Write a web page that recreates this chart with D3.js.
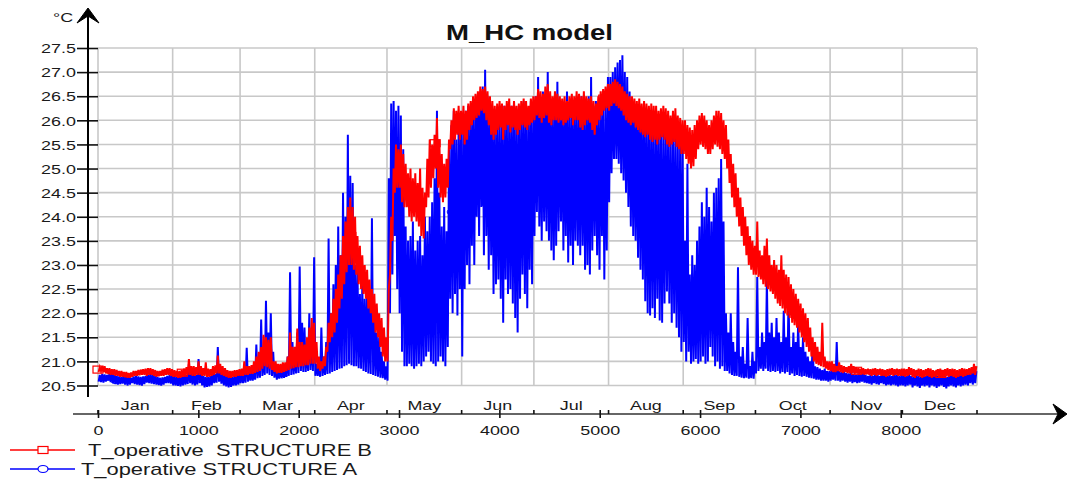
<!DOCTYPE html>
<html>
<head>
<meta charset="utf-8">
<script src="https://cdn.jsdelivr.net/npm/d3@7"></script>
<style>
  body { margin: 0; background: #fff; }
  svg { display: block; font-family: Arial, "Liberation Sans", sans-serif; }
</style>
</head>
<body>
<div id="wrapper"></div>
<script>
// Readings: for every day, its low then its high (°C)
const blueJan = [20.58,20.72, 20.57,20.74, 20.56,20.73, 20.58,20.72, 20.6,20.75,
  20.57,20.76, 20.55,20.72, 20.53,20.7, 20.52,20.69, 20.53,20.68,
  20.54,20.7, 20.52,20.72, 20.5,20.68, 20.52,20.66, 20.55,20.69,
  20.53,20.7, 20.52,20.69, 20.51,20.68, 20.5,20.69, 20.53,20.7,
  20.56,20.72, 20.55,20.74, 20.54,20.72, 20.53,20.7, 20.52,20.68,
  20.51,20.66, 20.5,20.67, 20.52,20.68, 20.55,20.7, 20.55,20.72,
  20.54,20.71]
const blueFeb = [20.5,20.7, 20.5,20.68, 20.49,20.72, 20.48,20.7, 20.5,20.75,
  20.52,20.72, 20.53,20.95, 20.55,20.74, 20.52,20.8, 20.5,20.72,
  20.52,21.05, 20.55,20.74, 20.5,20.7, 20.46,20.68, 20.47,20.68,
  20.48,20.7, 20.5,20.8, 20.55,20.74, 20.56,21.3, 20.58,20.78,
  20.54,20.78, 20.5,20.72, 20.48,20.7, 20.46,20.69, 20.47,20.68,
  20.5,20.7, 20.5,20.72, 20.52,20.73]
const blueMar = [20.55,20.75, 20.55,20.85, 20.56,21.28, 20.58,20.8, 20.6,20.8,
  20.6,20.78, 20.62,21.35, 20.65,21.0, 20.66,21.87, 20.7,21.1,
  20.72,22.26, 20.75,21.6, 20.72,22.0, 20.7,21.2, 20.66,20.95,
  20.62,20.85, 20.64,20.9, 20.65,20.86, 20.66,20.85, 20.68,21.1,
  20.7,22.85, 20.72,21.4, 20.73,21.2, 20.75,21.6, 20.76,22.97,
  20.8,21.8, 20.78,21.7, 20.78,21.3, 20.8,22.0, 20.82,21.6,
  20.8,23.16]
const blueApr = [20.7,20.95, 20.7,20.95, 20.68,21.7, 20.7,21.1, 20.72,21.4,
  20.74,23.55, 20.75,22.0, 20.78,22.6, 20.8,23.0, 20.82,23.8,
  20.85,23.2, 20.86,24.5, 20.9,24.0, 20.92,25.7, 20.95,24.85,
  20.92,24.7, 20.9,23.0, 20.9,22.9, 20.86,22.4, 20.85,22.6,
  20.8,22.3, 20.78,22.5, 20.75,22.2, 20.74,23.97, 20.72,22.0,
  20.7,21.6, 20.68,21.5, 20.66,21.2, 20.65,21.0, 20.62,20.9]
const blueMay = [20.6,24.8, 22.0,26.35, 22.8,26.4, 23.6,26.2, 22.5,26.3,
  22.0,26.1, 21.2,25.4, 20.9,23.8, 20.9,23.5, 20.95,23.6,
  20.9,23.9, 20.85,23.3, 20.9,23.5, 20.95,23.6, 20.9,23.2,
  21.0,24.0, 21.1,23.7, 21.2,24.0, 21.0,24.3, 20.95,24.8,
  20.9,26.2, 21.0,24.5, 21.1,23.8, 21.0,24.2, 20.9,23.7,
  21.3,25.4, 22.3,25.9, 22.0,26.2, 22.4,25.6, 21.95,26.0,
  22.5,26.1]
const blueJun = [21.1,26.1, 22.5,26.2, 23.0,26.3, 22.6,26.2, 23.4,26.3,
  23.0,26.4, 24.0,26.5, 23.6,26.6, 24.2,26.7, 23.2,27.05,
  23.6,26.5, 22.9,26.3, 23.2,26.2, 22.4,26.1, 22.6,26.0,
  22.7,26.2, 22.3,26.1, 21.8,26.3, 22.7,26.2, 22.4,26.1,
  22.5,26.3, 22.2,26.35, 21.9,26.2, 21.6,26.3, 22.3,26.2,
  22.8,26.4, 22.4,26.3, 22.1,26.2, 22.9,26.4, 22.6,26.3]
const blueJul = [23.6,26.5, 24.1,26.9, 23.8,26.4, 23.5,26.6, 23.9,26.3,
  23.7,27.0, 23.5,26.4, 23.3,26.3, 23.1,26.5, 23.4,26.8,
  23.7,26.3, 23.9,26.4, 23.3,26.3, 23.6,26.6, 23.05,26.2,
  23.4,26.4, 23.0,26.3, 23.5,26.4, 23.4,26.2, 23.2,26.5,
  23.4,26.3, 22.9,26.4, 23.0,26.5, 22.8,26.9, 23.3,26.3,
  23.6,26.4, 23.2,26.3, 22.9,26.5, 23.6,26.4, 22.7,26.3,
  23.3,26.9]
const blueAug = [24.3,26.9, 24.9,27.0, 25.2,27.1, 25.2,27.2, 25.1,27.25,
  24.9,27.35, 24.75,27.0, 24.5,26.9, 24.2,26.6, 23.8,26.4,
  23.6,26.3, 23.5,26.2, 23.15,26.3, 22.9,26.2, 22.7,26.1,
  22.25,26.2, 22.0,26.0, 21.95,26.1, 22.1,26.0, 21.9,25.9,
  22.3,26.0, 21.85,25.9, 21.8,25.8, 22.2,25.9, 22.45,25.7,
  22.2,25.8, 21.8,25.7, 22.0,25.8, 21.7,25.6, 21.5,25.7,
  21.2,25.5]
const blueSep = [21.4,23.5, 21.0,25.1, 21.2,22.8, 20.95,23.2, 21.0,23.0,
  21.05,23.5, 20.95,23.8, 21.0,24.3, 21.1,24.0, 20.95,24.6,
  21.0,24.2, 21.3,23.9, 21.1,24.5, 20.9,24.6, 21.0,24.8,
  20.85,25.2, 20.9,23.9, 20.8,22.0, 20.8,21.6, 20.75,22.0,
  20.72,21.4, 20.7,21.2, 20.7,22.95, 20.68,21.1, 20.66,21.3,
  20.65,20.95, 20.66,21.9, 20.64,20.9, 20.65,21.2, 20.64,21.0]
const blueOct = [20.75,22.75, 20.8,21.3, 20.85,21.6, 20.8,21.4, 20.85,22.7,
  20.8,21.6, 20.78,21.8, 20.8,21.5, 20.78,21.9, 20.8,21.6,
  20.75,21.4, 20.78,22.05, 20.75,21.5, 20.78,22.33, 20.72,21.3,
  20.75,21.6, 20.7,21.4, 20.72,21.85, 20.7,21.3, 20.68,21.5,
  20.7,21.2, 20.68,21.1, 20.66,21.0, 20.65,21.38, 20.64,20.9,
  20.62,20.88, 20.62,20.85, 20.6,20.82, 20.6,20.85, 20.6,20.8,
  20.58,20.8]
const blueNov = [20.6,20.82, 20.62,20.85, 20.6,21.4, 20.6,20.8, 20.58,20.78,
  20.6,20.8, 20.58,20.76, 20.56,20.75, 20.58,20.78, 20.55,20.74,
  20.57,20.72, 20.55,20.75, 20.56,20.74, 20.58,20.78, 20.56,20.72,
  20.55,20.7, 20.54,20.72, 20.52,20.7, 20.55,20.75, 20.53,20.72,
  20.52,20.7, 20.55,20.74, 20.53,20.72, 20.5,20.7, 20.52,20.72,
  20.5,20.7, 20.52,20.74, 20.5,20.72, 20.48,20.7, 20.5,20.72]
const blueDec = [20.5,20.72, 20.48,20.7, 20.5,20.74, 20.52,20.7, 20.46,20.68,
  20.5,20.72, 20.48,20.7, 20.45,20.68, 20.5,20.72, 20.48,20.7,
  20.5,20.74, 20.46,20.7, 20.5,20.72, 20.48,20.75, 20.45,20.7,
  20.48,20.72, 20.5,20.74, 20.47,20.7, 20.44,20.68, 20.48,20.72,
  20.5,20.75, 20.48,20.72, 20.46,20.7, 20.5,20.74, 20.48,20.72,
  20.5,20.75, 20.52,20.78, 20.5,20.74, 20.55,20.82, 20.52,20.78,
  20.55,20.8]

const redJan = [20.78,20.88, 20.8,20.9, 20.78,20.9, 20.75,20.86, 20.74,20.86,
  20.72,20.84, 20.72,20.84, 20.7,20.82, 20.7,20.8, 20.68,20.8,
  20.68,20.78, 20.67,20.78, 20.66,20.76, 20.66,20.77, 20.68,20.8,
  20.7,20.8, 20.7,20.82, 20.71,20.83, 20.72,20.84, 20.72,20.85,
  20.7,20.86, 20.72,20.86, 20.72,20.84, 20.7,20.82, 20.68,20.8,
  20.69,20.8, 20.7,20.83, 20.7,20.84, 20.72,20.86, 20.72,20.86,
  20.7,20.84]
const redFeb = [20.68,20.82, 20.68,20.8, 20.66,20.8, 20.66,20.82, 20.68,20.85,
  20.7,20.88, 20.72,21.05, 20.72,20.9, 20.7,20.9, 20.7,20.88,
  20.72,21.0, 20.72,20.9, 20.7,20.86, 20.7,20.98, 20.68,20.85,
  20.68,20.84, 20.7,20.9, 20.72,20.92, 20.75,21.12, 20.75,20.95,
  20.72,20.9, 20.7,20.86, 20.68,20.82, 20.66,20.8, 20.66,20.8,
  20.68,20.82, 20.68,20.82, 20.7,20.84]
const redMar = [20.7,20.85, 20.7,21.0, 20.72,20.9, 20.72,20.9, 20.74,20.92,
  20.74,21.0, 20.76,21.1, 20.78,21.2, 20.8,21.3, 20.85,21.55,
  20.9,21.5, 20.88,21.45, 20.85,21.5, 20.82,21.0, 20.78,21.0,
  20.75,20.95, 20.76,20.95, 20.76,20.98, 20.78,20.98, 20.8,21.1,
  20.82,21.6, 20.85,21.3, 20.86,21.3, 20.88,21.68, 20.88,21.4,
  20.9,21.4, 20.9,21.35, 20.92,21.5, 20.92,21.7, 20.95,21.9,
  20.95,21.8]
const redApr = [20.95,21.4, 20.85,21.1, 20.8,21.0, 20.85,21.1, 20.9,21.3,
  21.2,21.8, 21.4,22.0, 21.5,22.3, 21.6,22.5, 21.8,22.8,
  22.1,23.2, 22.3,23.6, 22.6,23.9, 22.85,24.2, 23.0,24.4,
  23.0,24.2, 22.9,24.0, 22.8,23.6, 22.6,23.4, 22.5,23.2,
  22.4,23.0, 22.3,22.9, 22.1,22.7, 22.0,22.5, 21.8,22.4,
  21.6,22.2, 21.5,22.0, 21.3,21.9, 21.1,21.7, 21.0,21.5]
const redMay = [21.0,22.5, 22.8,24.0, 23.5,25.0, 24.5,25.5, 24.6,25.4,
  24.6,25.5, 24.3,25.3, 24.2,25.1, 24.2,24.9, 24.0,25.0,
  23.9,24.8, 24.0,24.9, 23.9,24.7, 23.8,25.0, 23.6,24.6,
  23.55,24.5, 24.2,25.2, 24.4,25.6, 24.6,25.5, 24.8,25.7,
  25.0,26.05, 24.6,25.6, 24.4,25.3, 24.3,25.1, 24.4,25.2,
  24.6,25.6, 25.4,26.0, 25.5,26.25, 25.6,26.2, 25.7,26.3,
  25.6,26.2]
const redJun = [25.7,26.3, 25.5,26.2, 25.6,26.35, 25.8,26.4, 25.9,26.5,
  26.0,26.55, 26.05,26.6, 26.1,26.7, 26.2,26.65, 26.15,26.7,
  26.0,26.6, 25.9,26.5, 25.7,26.4, 25.6,26.3, 25.7,26.35,
  25.8,26.4, 25.85,26.35, 25.6,26.3, 25.8,26.4, 25.9,26.45,
  25.75,26.3, 25.85,26.4, 25.8,26.3, 25.7,26.35, 25.8,26.4,
  25.9,26.45, 25.85,26.4, 25.8,26.3, 25.9,26.45, 25.95,26.5]
const redJul = [26.0,26.5, 26.1,26.65, 26.05,26.6, 25.95,26.55, 26.05,26.7,
  26.1,26.75, 25.95,26.6, 25.9,26.5, 26.0,26.6, 26.0,26.55,
  25.95,26.5, 26.0,26.45, 25.9,26.5, 25.95,26.4, 26.0,26.5,
  26.05,26.55, 25.9,26.5, 26.0,26.6, 26.0,26.55, 25.85,26.5,
  25.8,26.6, 25.9,26.5, 26.0,26.45, 25.95,26.5, 25.8,26.4,
  25.7,26.35, 25.9,26.5, 26.0,26.6, 26.1,26.65, 26.2,26.7,
  26.25,26.75]
const redAug = [26.2,26.75, 26.3,26.8, 26.35,26.85, 26.3,26.8, 26.25,26.75,
  26.2,26.7, 26.1,26.6, 26.0,26.55, 25.95,26.5, 25.9,26.5,
  25.95,26.45, 25.85,26.4, 25.8,26.45, 25.75,26.35, 25.7,26.4,
  25.65,26.35, 25.7,26.3, 25.6,26.35, 25.55,26.3, 25.6,26.3,
  25.5,26.2, 25.6,26.25, 25.65,26.3, 25.6,26.25, 25.5,26.2,
  25.45,26.1, 25.5,26.2, 25.55,26.25, 25.45,26.1, 25.4,26.05,
  25.3,26.0]
const redSep = [25.3,26.0, 25.2,25.9, 25.1,25.85, 25.0,25.8, 25.05,25.9,
  25.2,26.0, 25.4,26.1, 25.5,26.15, 25.45,26.1, 25.4,26.0,
  25.3,25.9, 25.3,26.0, 25.4,26.1, 25.5,26.2, 25.45,26.2,
  25.4,26.15, 25.3,26.0, 25.2,25.9, 25.0,25.6, 24.7,25.3,
  24.4,25.1, 24.2,24.9, 24.0,24.6, 23.8,24.4, 23.6,24.2,
  23.4,24.0, 23.2,23.8, 23.0,23.6, 22.9,23.5, 22.8,23.4]
const redOct = [22.8,23.9, 22.75,23.3, 22.7,23.2, 22.6,23.4, 22.55,23.55,
  22.5,23.2, 22.45,23.0, 22.4,23.1, 22.3,23.0, 22.2,22.9,
  22.15,23.2, 22.1,22.9, 22.0,22.8, 21.95,22.75, 21.9,22.6,
  21.8,22.5, 21.75,22.4, 21.7,22.3, 21.6,22.2, 21.5,22.1,
  21.4,22.0, 21.3,21.9, 21.2,21.7, 21.1,21.5, 21.0,21.4,
  20.95,21.3, 20.92,21.2, 20.9,21.8, 20.88,21.1, 20.85,21.0,
  20.82,21.0]
const redNov = [20.8,21.0, 20.78,20.95, 20.78,20.9, 20.8,20.98, 20.78,20.92,
  20.76,20.9, 20.78,20.88, 20.76,20.9, 20.75,20.95, 20.76,20.9,
  20.74,20.88, 20.75,20.86, 20.73,20.85, 20.74,20.86, 20.72,20.84,
  20.73,20.85, 20.72,20.84, 20.7,20.85, 20.72,20.86, 20.7,20.84,
  20.72,20.85, 20.7,20.84, 20.7,20.82, 20.68,20.84, 20.7,20.85,
  20.72,20.86, 20.7,20.84, 20.72,20.85, 20.7,20.84, 20.7,20.85]
const redDec = [20.7,20.85, 20.68,20.84, 20.7,20.88, 20.72,20.86, 20.68,20.84,
  20.66,20.82, 20.7,20.85, 20.68,20.84, 20.66,20.82, 20.68,20.84,
  20.7,20.86, 20.68,20.85, 20.66,20.82, 20.68,20.8, 20.7,20.84,
  20.68,20.85, 20.66,20.82, 20.68,20.84, 20.7,20.86, 20.68,20.84,
  20.7,20.85, 20.68,20.84, 20.66,20.82, 20.68,20.84, 20.7,20.86,
  20.68,20.85, 20.7,20.84, 20.72,20.86, 20.72,20.88, 20.75,20.95,
  20.72,20.9]

const monthNames = ["Jan","Feb","Mar","Apr","May","Jun","Jul","Aug","Sep","Oct","Nov","Dec"]
const monthDays = [31,28,31,30,31,30,31,31,30,31,30,31]
const xTickValues = [0,1000,2000,3000,4000,5000,6000,7000,8000]
const yTickValues = [20.5,21.0,21.5,22.0,22.5,23.0,23.5,24.0,24.5,25.0,25.5,26.0,26.5,27.0,27.5]
const seriesNames = ["T_operative  STRUCTURE B", "T_operative STRUCTURE A"]

const renderChart = () => {
  const blue = [].concat(blueJan, blueFeb, blueMar, blueApr, blueMay, blueJun,
    blueJul, blueAug, blueSep, blueOct, blueNov, blueDec)
  const red = [].concat(redJan, redFeb, redMar, redApr, redMay, redJun,
    redJul, redAug, redSep, redOct, redNov, redDec)

  // two readings a day: low in the early morning, high in the afternoon
  const hourAccessor = (d, i) => i * 12 + 6
  const SX = 1.38 // the source picture is stretched sideways

  // 1) Dimensions
  const dimensions = { width: 1068, height: 483, left: 98, right: 977, top: 48, bottom: 385.5 }

  const svg = d3.select("#wrapper").append("svg")
    .attr("width", dimensions.width)
    .attr("height", dimensions.height)

  // 2) Scales
  const xScale = d3.scaleLinear().domain([0, 8760]).range([dimensions.left, dimensions.right])
  const yScale = d3.scaleLinear().domain([20.5, 27.5]).range([dimensions.bottom, dimensions.top])

  const monthStarts = [0]
  monthDays.forEach((n, i) => monthStarts.push(monthStarts[i] + n * 24))

  // 3) Grid
  const grid = svg.append("g").attr("stroke", "#c8c8c8").attr("stroke-width", 1.6)
  grid.selectAll(".hgrid").data(yTickValues).join("line")
    .attr("x1", dimensions.left).attr("x2", dimensions.right)
    .attr("y1", yScale).attr("y2", yScale)
  grid.selectAll(".vgrid").data(monthStarts).join("line")
    .attr("x1", xScale).attr("x2", xScale)
    .attr("y1", dimensions.top).attr("y2", dimensions.bottom)

  // 4) Data lines (markers every 840 h)
  const lineGenerator = d3.line()
    .x((d, i) => xScale(hourAccessor(d, i)))
    .y((d) => yScale(d))

  const dayAt = (h) => Math.min(364, Math.floor(h / 24))
  const dayMean = (arr, h) => (arr[dayAt(h) * 2] + arr[dayAt(h) * 2 + 1]) / 2
  const blueMarks = d3.range(170, 8760, 840)
  const redMarks = d3.range(0, 8760, 840)

  svg.selectAll(".bmark").data(blueMarks).join("ellipse")
    .attr("cx", xScale).attr("cy", (h) => yScale(dayMean(blue, h)))
    .attr("rx", 5).attr("ry", 3.5)
    .attr("fill", "none").attr("stroke", "#0000ff").attr("stroke-width", 1)

  svg.append("path").attr("d", lineGenerator(blue))
    .attr("fill", "none").attr("stroke", "#0000ff").attr("stroke-width", 2)
  svg.append("path").attr("d", lineGenerator(red))
    .attr("fill", "none").attr("stroke", "#ff0000").attr("stroke-width", 2)

  svg.selectAll(".rmark").data(redMarks).join("rect")
    .attr("x", (h) => xScale(h) - 5).attr("y", (h) => yScale(dayMean(red, h)) - 3.5)
    .attr("width", 10).attr("height", 7)
    .attr("fill", "none").attr("stroke", "#ff0000").attr("stroke-width", 1.2)

  // 5) Y axis
  const yAxis = svg.append("g").attr("transform", `translate(${dimensions.left},0)`)
    .call(d3.axisLeft(yScale).tickValues(yTickValues).tickFormat(d3.format(".1f")).tickSize(21))
  yAxis.select(".domain").remove()
  yAxis.selectAll(".tick line").attr("stroke", "#111").attr("stroke-width", 1.6)
  yAxis.selectAll(".tick text")
    .attr("x", -22 / SX).attr("dy", "0.36em")
    .attr("transform", `scale(${SX},1)`)
    .attr("font-size", 13).attr("fill", "#1a1a1a")

  svg.append("line").attr("x1", 88).attr("x2", 88).attr("y1", 15).attr("y2", 397)
    .attr("stroke", "#000").attr("stroke-width", 2)
  svg.append("path").attr("d", "M88,8 L99,23 L88,16 L77,23 Z").attr("fill", "#000")
    .attr("stroke", "#000").attr("stroke-width", 1).attr("stroke-linejoin", "round")
  svg.append("text").text("°C")
    .attr("transform", `translate(53,22) scale(${SX},1)`)
    .attr("font-size", 13).attr("fill", "#1a1a1a")

  // 6) X axis
  const axisY = 414
  svg.append("line").attr("x1", 73).attr("x2", 1062).attr("y1", axisY).attr("y2", axisY)
    .attr("stroke", "#333").attr("stroke-width", 1.6)
  svg.append("path").attr("d", `M1067,${axisY} L1053,${axisY - 10} L1058,${axisY} L1053,${axisY + 10} Z`)
    .attr("fill", "#000").attr("stroke", "#000").attr("stroke-linejoin", "round")

  const xAxis = svg.append("g").attr("transform", `translate(0,${axisY})`)
    .call(d3.axisBottom(xScale).tickValues(xTickValues).tickFormat(d3.format("d")).tickSize(4))
  xAxis.select(".domain").remove()
  xAxis.selectAll(".tick line").attr("y1", -4).attr("y2", 4)
    .attr("stroke", "#111").attr("stroke-width", 1.6)
  xAxis.selectAll(".tick text")
    .attr("y", 21).attr("dy", 0)
    .attr("transform", `scale(${SX},1)`)
    .attr("font-size", 13).attr("fill", "#1a1a1a")

  svg.append("g").selectAll("line").data(monthStarts).join("line")
    .attr("x1", xScale).attr("x2", xScale)
    .attr("y1", axisY - 4).attr("y2", axisY)
    .attr("stroke", "#111").attr("stroke-width", 1.6)

  svg.append("g").selectAll("text").data(monthNames).join("text")
    .text((d) => d)
    .attr("transform", (d, i) =>
      `translate(${xScale((monthStarts[i] + monthStarts[i + 1]) / 2)},${axisY - 4}) scale(${SX},1)`)
    .attr("text-anchor", "middle")
    .attr("font-size", 13).attr("fill", "#1a1a1a")

  // 7) Title
  svg.append("text").text("M_HC model")
    .attr("x", 446).attr("y", 40)
    .attr("textLength", 167).attr("lengthAdjust", "spacingAndGlyphs")
    .attr("font-size", 22).attr("font-weight", "bold").attr("fill", "#111")

  // 8) Legend
  const legend = svg.append("g")
  const legendRows = [
    { name: seriesNames[0], color: "#ff0000", y: 450, textX: 88, textLen: 284, shape: "rect" },
    { name: seriesNames[1], color: "#0000ff", y: 469, textX: 81, textLen: 276, shape: "ellipse" },
  ]
  legendRows.forEach((r) => {
    legend.append("line").attr("x1", 10).attr("x2", 75).attr("y1", r.y).attr("y2", r.y)
      .attr("stroke", r.color).attr("stroke-width", 1.5)
    if (r.shape === "rect") {
      legend.append("rect").attr("x", 38).attr("y", r.y - 3.5).attr("width", 10).attr("height", 7)
        .attr("fill", "#fff").attr("stroke", r.color).attr("stroke-width", 1.2)
    } else {
      legend.append("ellipse").attr("cx", 43).attr("cy", r.y).attr("rx", 5).attr("ry", 3.5)
        .attr("fill", "#fff").attr("stroke", r.color).attr("stroke-width", 1.2)
    }
    legend.append("text").text(r.name)
      .attr("x", r.textX).attr("y", r.y + 6)
      .style("white-space", "pre")
      .attr("textLength", r.textLen).attr("lengthAdjust", "spacingAndGlyphs")
      .attr("font-size", 17).attr("fill", "#1a1a1a")
  })
}

renderChart()
</script>
</body>
</html>
